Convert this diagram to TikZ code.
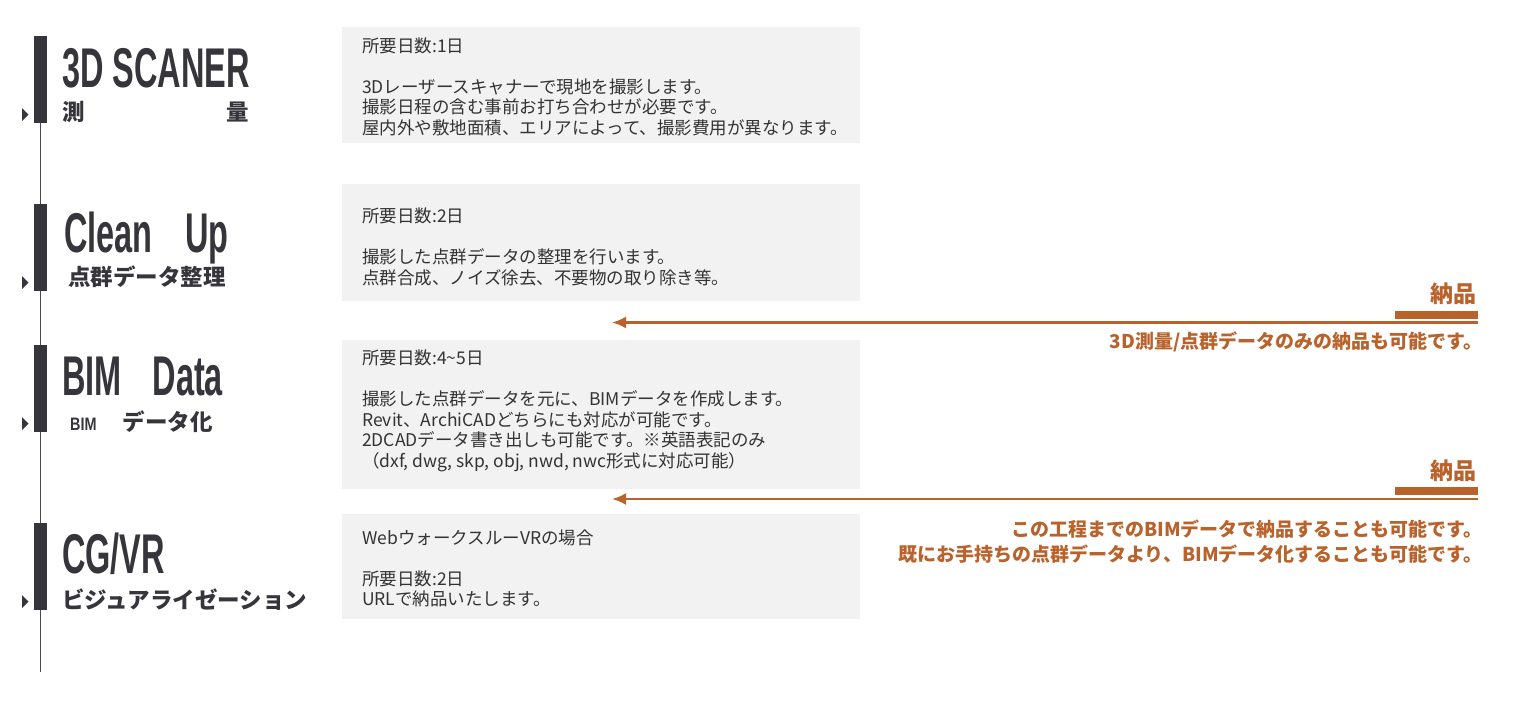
\documentclass[tikz,border=0pt]{standalone}
\usepackage{fontspec}
\usepackage{graphicx}
\setmainfont{Noto Sans CJK JP}
\newfontfamily\titlefont{Liberation Sans}
\usetikzlibrary{arrows.meta,positioning}

\definecolor{stepdark}{HTML}{36353B}
\definecolor{boxgray}{HTML}{F2F2F2}
\definecolor{boxtext}{HTML}{333333}
\definecolor{deliver}{HTML}{B9622B}

\newcommand{\stepname}[2][56]{\scalebox{0.58}[1]{\titlefont\bfseries\fontsize{#1}{#1}\selectfont #2}}

\begin{document}
\begin{tikzpicture}[x=1pt,y=-1pt,
        stepbar/.style={rectangle,fill=stepdark,minimum width=12.5pt,minimum height=87pt,inner sep=0pt},
        timeline/.style={draw=stepdark!90,line width=1.3pt},
        steptitle/.style={anchor=base west,inner sep=0pt,text=stepdark},
        stepsub/.style={anchor=base west,inner sep=0pt,text=stepdark,font=\bfseries\fontsize{22.5}{22.5}\selectfont},
        stepbox/.style={rectangle,fill=boxgray,minimum width=518pt,inner sep=0pt,anchor=north west},
        steptext/.style={inner sep=0pt,align=left,text=boxtext,font=\fontsize{17.5}{20.5}\selectfont},
        delivlabel/.style={anchor=base east,inner sep=0pt,text=deliver,font=\bfseries\fontsize{23}{23}\selectfont},
        delivbar/.style={rectangle,fill=deliver,minimum width=83pt,minimum height=8pt,inner sep=0pt,anchor=north east},
        delivarrow/.style={draw=deliver,line width=2.4pt,-{Latex[length=14pt,width=12pt]}},
        delivnote/.style={inner sep=0pt,text=deliver,font=\bfseries\fontsize{19}{25}\selectfont}]

\useasboundingbox (0,0) rectangle (1516,712);

% timeline
\foreach \n/\t in {1/36,2/204,3/345,4/523}
{
   \node (bar\n) [stepbar,anchor=north] at (40.5,\t) {};
   \fill[stepdark] (22,\t+72) -- (28.5,\t+78.5) -- (22,\t+85) -- cycle;
}
\coordinate (tlend) at (40.5,672);
\foreach \a/\b in {bar1/bar2,bar2/bar3,bar3/bar4}
   \draw[timeline] (\a.south) -- (\b.north);
\draw[timeline] (bar4.south) -- (tlend);

% step names
\node (name1) [steptitle] at (62,87) {\stepname{3D SCANER}};
\node (name2) [steptitle] at (64,252) {\stepname{Clean\hspace{1em}Up}};
\node (name3) [steptitle] at (62,395) {\stepname{BIM\hspace{0.95em}Data}};
\node (name4) [steptitle] at (62,573) {\stepname{CG/VR}};

\node (sub1) [stepsub] at (62,120) {測\hspace{142pt}量};
\node (sub2) [stepsub] at (68,285) {点群データ整理};
\node (sub3) [stepsub] at (70,430) {{\titlefont\bfseries\fontsize{18}{18}\selectfont\scalebox{0.8}[1]{BIM}}\hspace{26pt}データ化};
\node (sub4) [stepsub] at (62,608) {ビジュアライゼーション};

% boxes
\node (box1) [stepbox,minimum height=116pt] at (342,27) {};
\node (box2) [stepbox,minimum height=117pt] at (342,184) {};
\node (box3) [stepbox,minimum height=149pt] at (342,340) {};
\node (box4) [stepbox,minimum height=105pt] at (342,514) {};

\node (text1) [steptext,right=20pt of box1.west,yshift=-1.5pt] {所要日数:1日\\[20.5pt]
   3Dレーザースキャナーで現地を撮影します。\\
   撮影日程の含む事前お打ち合わせが必要です。\\
   屋内外や敷地面積、エリアによって、撮影費用が異なります。};
\node (text2) [steptext,right=20pt of box2.west,yshift=-4pt] {所要日数:2日\\[20.5pt]
   撮影した点群データの整理を行います。\\
   点群合成、ノイズ徐去、不要物の取り除き等。};
\node (text3) [steptext,right=20pt of box3.west,yshift=4pt] {所要日数:4\textasciitilde 5日\\[20.5pt]
   撮影した点群データを元に、BIMデータを作成します。\\
   Revit、ArchiCADどちらにも対応が可能です。\\
   2DCADデータ書き出しも可能です。※英語表記のみ\\
   （dxf, dwg, skp, obj, nwd, nwc形式に対応可能）};
\node (text4) [steptext,right=20pt of box4.west,yshift=-1.5pt] {WebウォークスルーVRの場合\\[20.5pt]
   所要日数:2日\\
   URLで納品いたします。};

% delivery
\node (deliv1) [delivlabel] at (1477,302) {納品};
\node (dbar1) [delivbar] at (1478,311) {};
\coordinate (d1from) at (1478,322.5);
\coordinate (d1to) at (612,322.5);
\draw[delivarrow] (d1from) -- (d1to);
\node (note1) [delivnote,anchor=base east] at (1483,348) {3D測量/点群データのみの納品も可能です。};

\node (deliv2) [delivlabel] at (1477,479) {納品};
\node (dbar2) [delivbar] at (1478,487) {};
\coordinate (d2from) at (1478,499);
\coordinate (d2to) at (612,499);
\draw[delivarrow] (d2from) -- (d2to);
\node (note2) [delivnote,align=right,anchor=east] at (1483,541.5) {この工程までのBIMデータで納品することも可能です。\\
   既にお手持ちの点群データより、BIMデータ化することも可能です。};

\end{tikzpicture}
\end{document}
